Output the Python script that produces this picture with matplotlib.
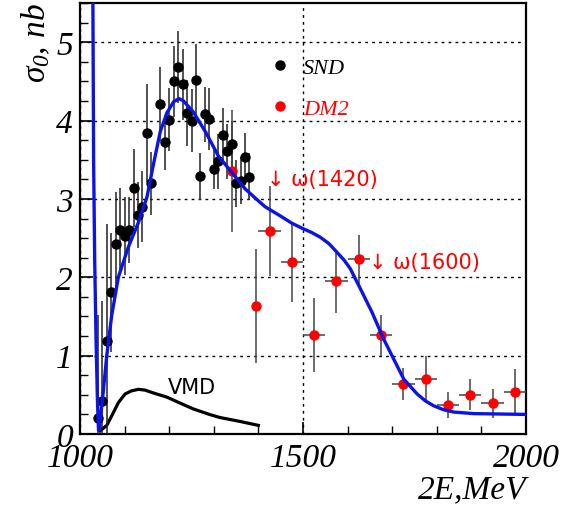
import matplotlib
matplotlib.use("Agg")
import matplotlib.pyplot as plt
from matplotlib.lines import Line2D
import numpy as np

plt.rcParams["mathtext.fontset"] = "custom"
plt.rcParams["mathtext.it"] = "Liberation Serif:italic"
plt.rcParams["mathtext.rm"] = "Liberation Serif:italic"

# ---- data ----
snd_x = [1040, 1050, 1060, 1070, 1080, 1090, 1100, 1110, 1120, 1130, 1140, 1150, 1160,
         1180, 1190, 1200, 1210, 1220, 1230, 1240, 1250, 1260, 1270, 1280, 1290, 1300,
         1310, 1320, 1330, 1340, 1350, 1360, 1370, 1380]
snd_y = [0.21, 0.42, 1.19, 1.81, 2.43, 2.60, 2.53, 2.60, 3.14, 2.79, 2.90, 3.84, 3.20,
         4.21, 3.72, 4.01, 4.50, 4.68, 4.46, 4.10, 4.00, 4.52, 3.29, 4.08, 4.02, 3.38,
         3.48, 3.81, 3.61, 3.70, 3.20, 3.23, 3.54, 3.28]
snd_err = [1.31, 1.28, 1.49, 0.76, 0.66, 0.54, 0.50, 0.42, 0.50, 0.42, 0.45, 0.62, 0.40,
           0.47, 0.35, 0.40, 0.45, 0.46, 0.45, 0.42, 0.40, 0.46, 0.30, 0.35, 0.40, 0.25,
           0.35, 0.35, 0.35, 0.30, 0.30, 0.30, 0.30, 0.30]

dm2_x = [1340, 1395, 1425, 1475, 1525, 1575, 1625, 1675, 1725, 1775, 1825, 1875, 1925, 1975]
dm2_y = [3.36, 1.63, 2.59, 2.19, 1.26, 1.95, 2.23, 1.26, 0.64, 0.70, 0.37, 0.50, 0.39, 0.54]
dm2_yerr = [0.78, 0.73, 0.57, 0.50, 0.47, 0.40, 0.31, 0.26, 0.20, 0.29, 0.16, 0.20, 0.19, 0.29]
dm2_xerr = [0, 0, 25, 25, 25, 25, 25, 25, 25, 25, 25, 25, 25, 25]

fit_x = [1028.5, 1029.5, 1030.5, 1033, 1036, 1039, 1041.5, 1043, 1047, 1052, 1060, 1071,
         1086, 1108, 1131, 1150, 1165, 1180, 1195, 1210, 1222, 1232, 1254, 1282, 1310,
         1340, 1370, 1395, 1415, 1450, 1475, 1500, 1520, 1539, 1558, 1576, 1592, 1606,
         1629, 1655, 1681, 1703, 1726, 1756, 1775, 1793, 1815, 1838, 1883, 1943, 2000]
fit_y = [6.0, 4.8, 3.5, 2.2, 1.2, 0.45, 0.05, 0.05, 0.27, 0.53, 1.0, 1.51,
         2.0, 2.38, 2.70, 3.02, 3.45, 3.86, 4.10, 4.24, 4.28, 4.25, 4.11, 3.85, 3.55,
         3.34, 3.13, 3.00, 2.90, 2.78, 2.69, 2.62, 2.57, 2.51, 2.43, 2.32, 2.22, 2.11,
         1.85, 1.55, 1.21, 0.96, 0.70, 0.51, 0.42, 0.36, 0.31, 0.28, 0.26, 0.255, 0.25]

vmd_x = [1045, 1060, 1071, 1086, 1101, 1115, 1131, 1146, 1161, 1178, 1195, 1230, 1254,
         1290, 1314, 1359, 1400]
vmd_y = [0.04, 0.11, 0.23, 0.40, 0.51, 0.55, 0.57, 0.56, 0.53, 0.50, 0.47, 0.38, 0.32,
         0.25, 0.21, 0.16, 0.11]

xticks = [1000, 1500, 2000]
yticks = [0, 1, 2, 3, 4, 5]

# ---- figure ----
W, H = 568, 506
fig = plt.figure(figsize=(W / 100, H / 100), dpi=100)
ax = fig.add_axes([80 / W, 1 - 435 / H, (526 - 80) / W, (435 - 4) / H])

serif_it = dict(family="Liberation Serif", style="italic")

ax.set_xlim(1000, 2000)
ax.set_ylim(0, 5.5)

# SND
ax.errorbar(snd_x, snd_y, yerr=snd_err, fmt="o", color="black", ms=6.5,
            ecolor="#222222", elinewidth=1.1, capsize=0, zorder=4)
# DM2
ax.errorbar(dm2_x, dm2_y, yerr=dm2_yerr, xerr=dm2_xerr, fmt="o", color="red", ms=6.5,
            mec="red", ecolor="#444444", elinewidth=1.1, capsize=0, zorder=4)
# fit curve
ax.plot(fit_x, fit_y, color="#0a14e6", lw=2.4, zorder=5, solid_joinstyle="round")
# VMD
ax.plot(vmd_x, vmd_y, color="black", lw=2.3, zorder=3, solid_joinstyle="round")

# ticks / grid
ax.set_xticks(xticks)
ax.set_yticks(yticks)
ax.set_xticks(np.arange(1000, 2001, 100), minor=True)
ax.set_yticks(np.arange(0, 5.51, 0.25), minor=True)
ax.tick_params(which="both", direction="in", top=False, right=False)
ax.tick_params(which="major", length=9, width=1.2, pad=6)
ax.tick_params(which="minor", length=6, width=1.0)
ax.tick_params(axis="y", which="major", pad=5)
for lab in ax.get_xticklabels() + ax.get_yticklabels():
    lab.set_fontfamily("Liberation Serif")
    lab.set_fontstyle("italic")
    lab.set_fontsize(24)
ax.grid(True, which="major", color="black", linestyle=(0, (2, 3)), lw=1.0)
for s in ax.spines.values():
    s.set_linewidth(1.6)

# labels
fig.text(36 / W, 1 - 3 / H, r"$\sigma_{0}$, nb", rotation=90, ha="center", va="top",
         fontsize=24, **serif_it)
fig.text(526 / W, 1 - 498 / H, "2E,MeV", ha="right", va="baseline", fontsize=24,
         **serif_it)

# legend
handles = [Line2D([], [], marker="o", ls="", color="black", ms=6.5),
           Line2D([], [], marker="o", ls="", color="red", ms=6.5)]
leg = ax.legend(handles, ["SND", "DM2"], loc="upper left",
                bbox_to_anchor=((273 - 80) / 446, 1 - 54 / 431), frameon=False,
                prop=dict(family="Liberation Serif", style="italic", size=16),
                handlelength=0.6, handletextpad=0.76, labelspacing=0.95,
                borderpad=0, borderaxespad=0)
leg.get_texts()[1].set_color("red")

# annotations
ann_font = dict(family=["DejaVu Sans"], fontsize=15)
ax.text(1420, 3.26, "\u2193 \u03c9(1420)", color="red", ha="left", va="center", **ann_font)
ax.text(1649, 2.20, "\u2193 \u03c9(1600)", color="red", ha="left", va="center", **ann_font)
ax.text(1196, 0.60, "VMD", color="black", ha="left", va="center", **ann_font)

fig.savefig("out.png", dpi=100)
